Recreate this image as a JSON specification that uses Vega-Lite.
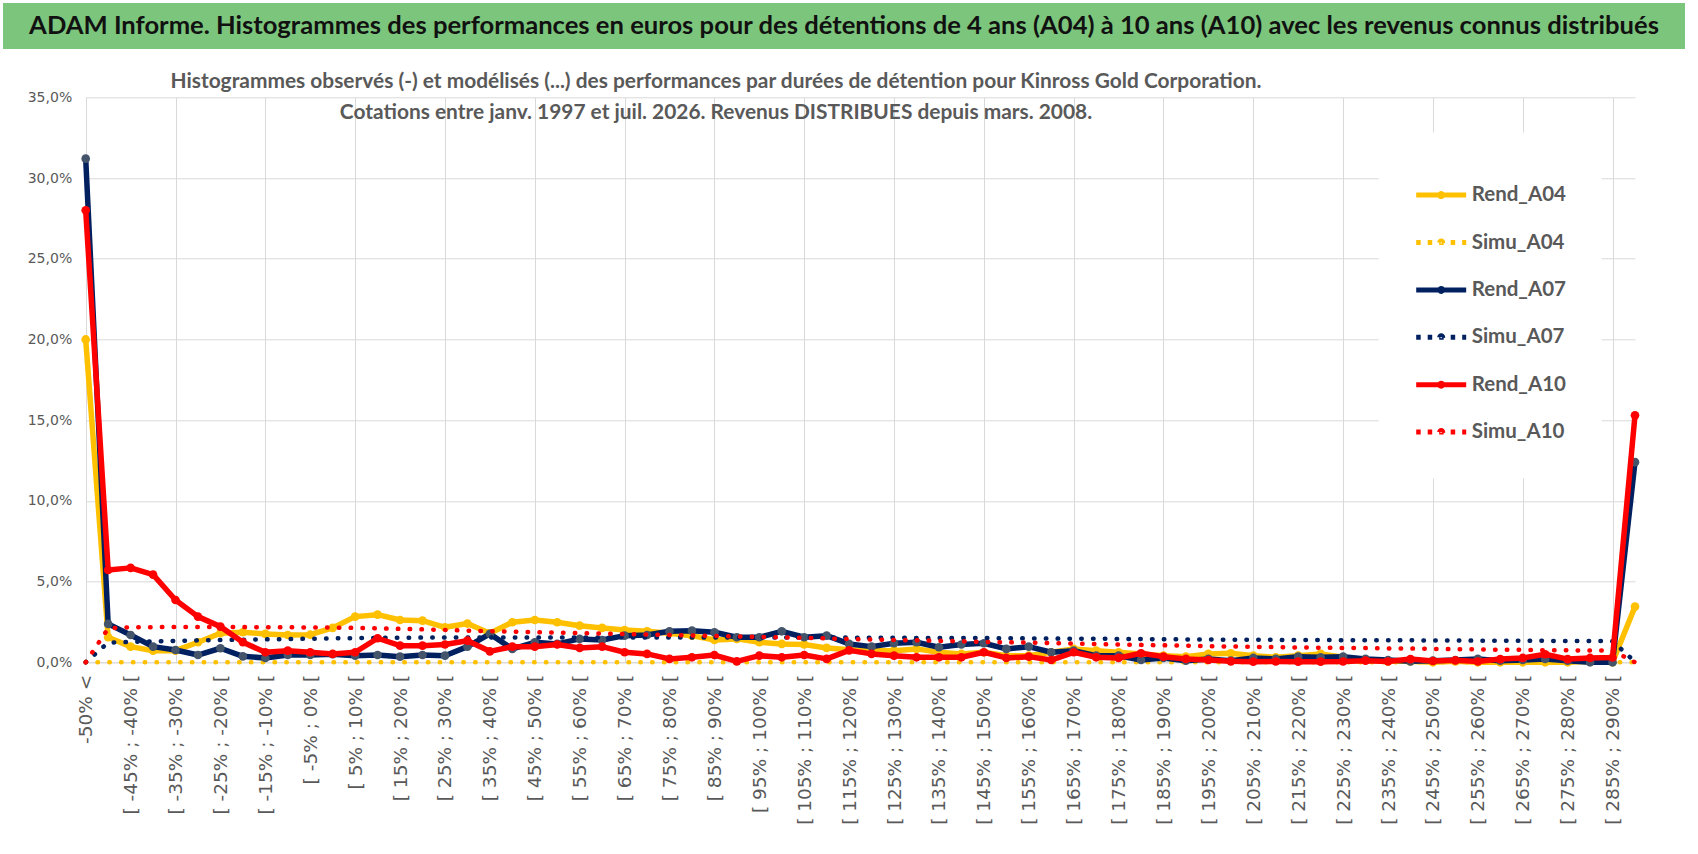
{
  "$schema": "https://vega.github.io/schema/vega-lite/v6.json",
  "background": "white",
  "padding": {"left": 3, "top": 3, "right": 0, "bottom": 0},
  "columns": 1,
  "spacing": 21.3,
  "config": {"view": {"stroke": null}},
  "concat": [
    {
      "width": 1682,
      "height": 46,
      "data": {"values": [{"t": "ADAM Informe. Histogrammes des performances en euros pour des détentions de 4 ans (A04) à 10 ans (A10) avec les revenus connus distribués"}]},
      "layer": [
        {"mark": {"type": "rect", "color": "#7CC57C"}, "encoding": {}},
        {"mark": {"type": "text", "font": "Lato", "fontSize": 25.6, "fontWeight": "bold", "color": "#111111", "align": "center", "baseline": "middle"},
         "encoding": {"text": {"field": "t", "type": "nominal"}}}
      ]
    },
    {
      "width": 1632,
      "height": 565,
      "title": {
        "text": ["Histogrammes observés (-) et modélisés (...)  des performances par durées de détention pour Kinross Gold Corporation.", "Cotations entre janv. 1997 et juil. 2026. Revenus DISTRIBUES depuis mars. 2008."],
        "font": "Lato",
        "fontSize": 20.9,
        "fontWeight": "bold",
        "color": "#595959",
        "lineHeight": 30.5,
        "anchor": "middle",
        "dx": -103,
        "offset": -32.3
      },
      "data": {"values": [
        {"c": "-50% <", "Rend_A04": 20.0, "Simu_A04": 0, "Rend_A07": 31.2, "Simu_A07": 0, "Rend_A10": 28.0, "Simu_A10": 0},
        {"c": "[ -50% ; -45% [", "Rend_A04": 1.55, "Simu_A04": 0, "Rend_A07": 2.38, "Simu_A07": 1.22, "Rend_A10": 5.72, "Simu_A10": 2.1},
        {"c": "[ -45% ; -40% [", "Rend_A04": 0.97, "Simu_A04": 0, "Rend_A07": 1.69, "Simu_A07": 1.26, "Rend_A10": 5.85, "Simu_A10": 2.17},
        {"c": "[ -40% ; -35% [", "Rend_A04": 0.72, "Simu_A04": 0, "Rend_A07": 0.97, "Simu_A07": 1.3, "Rend_A10": 5.43, "Simu_A10": 2.18},
        {"c": "[ -35% ; -30% [", "Rend_A04": 0.72, "Simu_A04": 0, "Rend_A07": 0.76, "Simu_A07": 1.33, "Rend_A10": 3.86, "Simu_A10": 2.18},
        {"c": "[ -30% ; -25% [", "Rend_A04": 1.24, "Simu_A04": 0, "Rend_A07": 0.45, "Simu_A07": 1.36, "Rend_A10": 2.83, "Simu_A10": 2.18},
        {"c": "[ -25% ; -20% [", "Rend_A04": 1.8, "Simu_A04": 0, "Rend_A07": 0.87, "Simu_A07": 1.38, "Rend_A10": 2.21, "Simu_A10": 2.18},
        {"c": "[ -20% ; -15% [", "Rend_A04": 1.86, "Simu_A04": 0, "Rend_A07": 0.37, "Simu_A07": 1.4, "Rend_A10": 1.24, "Simu_A10": 2.18},
        {"c": "[ -15% ; -10% [", "Rend_A04": 1.76, "Simu_A04": 0, "Rend_A07": 0.27, "Simu_A07": 1.42, "Rend_A10": 0.62, "Simu_A10": 2.17},
        {"c": "[ -10% ; -5% [", "Rend_A04": 1.69, "Simu_A04": 0, "Rend_A07": 0.45, "Simu_A07": 1.44, "Rend_A10": 0.72, "Simu_A10": 2.17},
        {"c": "[ -5% ; 0% [", "Rend_A04": 1.71, "Simu_A04": 0, "Rend_A07": 0.45, "Simu_A07": 1.46, "Rend_A10": 0.62, "Simu_A10": 2.16},
        {"c": "[ 0% ; 5% [", "Rend_A04": 2.13, "Simu_A04": 0, "Rend_A07": 0.5, "Simu_A07": 1.48, "Rend_A10": 0.52, "Simu_A10": 2.15},
        {"c": "[ 5% ; 10% [", "Rend_A04": 2.83, "Simu_A04": 0, "Rend_A07": 0.41, "Simu_A07": 1.5, "Rend_A10": 0.62, "Simu_A10": 2.13},
        {"c": "[ 10% ; 15% [", "Rend_A04": 2.95, "Simu_A04": 0, "Rend_A07": 0.45, "Simu_A07": 1.51, "Rend_A10": 1.49, "Simu_A10": 2.1},
        {"c": "[ 15% ; 20% [", "Rend_A04": 2.62, "Simu_A04": 0, "Rend_A07": 0.35, "Simu_A07": 1.52, "Rend_A10": 1.03, "Simu_A10": 2.07},
        {"c": "[ 20% ; 25% [", "Rend_A04": 2.58, "Simu_A04": 0, "Rend_A07": 0.45, "Simu_A07": 1.53, "Rend_A10": 1.03, "Simu_A10": 2.04},
        {"c": "[ 25% ; 30% [", "Rend_A04": 2.17, "Simu_A04": 0, "Rend_A07": 0.41, "Simu_A07": 1.53, "Rend_A10": 1.1, "Simu_A10": 2.0},
        {"c": "[ 30% ; 35% [", "Rend_A04": 2.4, "Simu_A04": 0, "Rend_A07": 0.97, "Simu_A07": 1.54, "Rend_A10": 1.34, "Simu_A10": 1.96},
        {"c": "[ 35% ; 40% [", "Rend_A04": 1.8, "Simu_A04": 0, "Rend_A07": 1.76, "Simu_A07": 1.54, "Rend_A10": 0.68, "Simu_A10": 1.93},
        {"c": "[ 40% ; 45% [", "Rend_A04": 2.48, "Simu_A04": 0, "Rend_A07": 0.83, "Simu_A07": 1.54, "Rend_A10": 0.97, "Simu_A10": 1.9},
        {"c": "[ 45% ; 50% [", "Rend_A04": 2.62, "Simu_A04": 0, "Rend_A07": 1.24, "Simu_A07": 1.54, "Rend_A10": 0.97, "Simu_A10": 1.87},
        {"c": "[ 50% ; 55% [", "Rend_A04": 2.48, "Simu_A04": 0, "Rend_A07": 1.14, "Simu_A07": 1.54, "Rend_A10": 1.1, "Simu_A10": 1.84},
        {"c": "[ 55% ; 60% [", "Rend_A04": 2.27, "Simu_A04": 0, "Rend_A07": 1.45, "Simu_A07": 1.54, "Rend_A10": 0.89, "Simu_A10": 1.81},
        {"c": "[ 60% ; 65% [", "Rend_A04": 2.13, "Simu_A04": 0, "Rend_A07": 1.38, "Simu_A07": 1.54, "Rend_A10": 0.97, "Simu_A10": 1.78},
        {"c": "[ 65% ; 70% [", "Rend_A04": 2.0, "Simu_A04": 0, "Rend_A07": 1.65, "Simu_A07": 1.54, "Rend_A10": 0.62, "Simu_A10": 1.75},
        {"c": "[ 70% ; 75% [", "Rend_A04": 1.92, "Simu_A04": 0, "Rend_A07": 1.69, "Simu_A07": 1.54, "Rend_A10": 0.52, "Simu_A10": 1.72},
        {"c": "[ 75% ; 80% [", "Rend_A04": 1.8, "Simu_A04": 0, "Rend_A07": 1.92, "Simu_A07": 1.54, "Rend_A10": 0.21, "Simu_A10": 1.69},
        {"c": "[ 80% ; 85% [", "Rend_A04": 1.65, "Simu_A04": 0, "Rend_A07": 1.96, "Simu_A07": 1.54, "Rend_A10": 0.31, "Simu_A10": 1.66},
        {"c": "[ 85% ; 90% [", "Rend_A04": 1.38, "Simu_A04": 0, "Rend_A07": 1.86, "Simu_A07": 1.54, "Rend_A10": 0.45, "Simu_A10": 1.63},
        {"c": "[ 90% ; 95% [", "Rend_A04": 1.45, "Simu_A04": 0, "Rend_A07": 1.55, "Simu_A07": 1.54, "Rend_A10": 0.06, "Simu_A10": 1.6},
        {"c": "[ 95% ; 100% [", "Rend_A04": 1.24, "Simu_A04": 0, "Rend_A07": 1.55, "Simu_A07": 1.54, "Rend_A10": 0.41, "Simu_A10": 1.57},
        {"c": "[ 100% ; 105% [", "Rend_A04": 1.14, "Simu_A04": 0, "Rend_A07": 1.92, "Simu_A07": 1.54, "Rend_A10": 0.31, "Simu_A10": 1.54},
        {"c": "[ 105% ; 110% [", "Rend_A04": 1.1, "Simu_A04": 0, "Rend_A07": 1.55, "Simu_A07": 1.54, "Rend_A10": 0.45, "Simu_A10": 1.51},
        {"c": "[ 110% ; 115% [", "Rend_A04": 0.89, "Simu_A04": 0, "Rend_A07": 1.65, "Simu_A07": 1.54, "Rend_A10": 0.21, "Simu_A10": 1.48},
        {"c": "[ 115% ; 120% [", "Rend_A04": 0.78, "Simu_A04": 0, "Rend_A07": 1.14, "Simu_A07": 1.53, "Rend_A10": 0.74, "Simu_A10": 1.44},
        {"c": "[ 120% ; 125% [", "Rend_A04": 0.72, "Simu_A04": 0, "Rend_A07": 0.97, "Simu_A07": 1.52, "Rend_A10": 0.52, "Simu_A10": 1.41},
        {"c": "[ 125% ; 130% [", "Rend_A04": 0.72, "Simu_A04": 0, "Rend_A07": 1.18, "Simu_A07": 1.52, "Rend_A10": 0.41, "Simu_A10": 1.38},
        {"c": "[ 130% ; 135% [", "Rend_A04": 0.83, "Simu_A04": 0, "Rend_A07": 1.24, "Simu_A07": 1.51, "Rend_A10": 0.31, "Simu_A10": 1.36},
        {"c": "[ 135% ; 140% [", "Rend_A04": 0.62, "Simu_A04": 0, "Rend_A07": 0.93, "Simu_A07": 1.51, "Rend_A10": 0.31, "Simu_A10": 1.33},
        {"c": "[ 140% ; 145% [", "Rend_A04": 0.52, "Simu_A04": 0, "Rend_A07": 1.1, "Simu_A07": 1.5, "Rend_A10": 0.31, "Simu_A10": 1.3},
        {"c": "[ 145% ; 150% [", "Rend_A04": 0.62, "Simu_A04": 0, "Rend_A07": 1.18, "Simu_A07": 1.5, "Rend_A10": 0.62, "Simu_A10": 1.27},
        {"c": "[ 150% ; 155% [", "Rend_A04": 0.41, "Simu_A04": 0, "Rend_A07": 0.83, "Simu_A07": 1.49, "Rend_A10": 0.27, "Simu_A10": 1.24},
        {"c": "[ 155% ; 160% [", "Rend_A04": 0.41, "Simu_A04": 0, "Rend_A07": 0.97, "Simu_A07": 1.48, "Rend_A10": 0.35, "Simu_A10": 1.22},
        {"c": "[ 160% ; 165% [", "Rend_A04": 0.62, "Simu_A04": 0, "Rend_A07": 0.62, "Simu_A07": 1.47, "Rend_A10": 0.14, "Simu_A10": 1.19},
        {"c": "[ 165% ; 170% [", "Rend_A04": 0.83, "Simu_A04": 0, "Rend_A07": 0.72, "Simu_A07": 1.46, "Rend_A10": 0.62, "Simu_A10": 1.16},
        {"c": "[ 170% ; 175% [", "Rend_A04": 0.72, "Simu_A04": 0, "Rend_A07": 0.41, "Simu_A07": 1.46, "Rend_A10": 0.31, "Simu_A10": 1.13},
        {"c": "[ 175% ; 180% [", "Rend_A04": 0.62, "Simu_A04": 0, "Rend_A07": 0.41, "Simu_A07": 1.45, "Rend_A10": 0.27, "Simu_A10": 1.1},
        {"c": "[ 180% ; 185% [", "Rend_A04": 0.52, "Simu_A04": 0, "Rend_A07": 0.14, "Simu_A07": 1.44, "Rend_A10": 0.56, "Simu_A10": 1.08},
        {"c": "[ 185% ; 190% [", "Rend_A04": 0.41, "Simu_A04": 0, "Rend_A07": 0.27, "Simu_A07": 1.43, "Rend_A10": 0.35, "Simu_A10": 1.05},
        {"c": "[ 190% ; 195% [", "Rend_A04": 0.35, "Simu_A04": 0, "Rend_A07": 0.1, "Simu_A07": 1.42, "Rend_A10": 0.21, "Simu_A10": 1.03},
        {"c": "[ 195% ; 200% [", "Rend_A04": 0.52, "Simu_A04": 0, "Rend_A07": 0.21, "Simu_A07": 1.41, "Rend_A10": 0.14, "Simu_A10": 1.0},
        {"c": "[ 200% ; 205% [", "Rend_A04": 0.56, "Simu_A04": 0, "Rend_A07": 0.1, "Simu_A07": 1.4, "Rend_A10": 0.06, "Simu_A10": 0.98},
        {"c": "[ 205% ; 210% [", "Rend_A04": 0.41, "Simu_A04": 0, "Rend_A07": 0.27, "Simu_A07": 1.39, "Rend_A10": 0.04, "Simu_A10": 0.96},
        {"c": "[ 210% ; 215% [", "Rend_A04": 0.31, "Simu_A04": 0, "Rend_A07": 0.21, "Simu_A07": 1.39, "Rend_A10": 0.05, "Simu_A10": 0.94},
        {"c": "[ 215% ; 220% [", "Rend_A04": 0.41, "Simu_A04": 0, "Rend_A07": 0.35, "Simu_A07": 1.38, "Rend_A10": 0.04, "Simu_A10": 0.92},
        {"c": "[ 220% ; 225% [", "Rend_A04": 0.52, "Simu_A04": 0, "Rend_A07": 0.31, "Simu_A07": 1.38, "Rend_A10": 0.04, "Simu_A10": 0.9},
        {"c": "[ 225% ; 230% [", "Rend_A04": 0.31, "Simu_A04": 0, "Rend_A07": 0.35, "Simu_A07": 1.37, "Rend_A10": 0.05, "Simu_A10": 0.89},
        {"c": "[ 230% ; 235% [", "Rend_A04": 0.15, "Simu_A04": 0, "Rend_A07": 0.21, "Simu_A07": 1.37, "Rend_A10": 0.1, "Simu_A10": 0.88},
        {"c": "[ 235% ; 240% [", "Rend_A04": 0.06, "Simu_A04": 0, "Rend_A07": 0.14, "Simu_A07": 1.36, "Rend_A10": 0.05, "Simu_A10": 0.86},
        {"c": "[ 240% ; 245% [", "Rend_A04": 0.06, "Simu_A04": 0, "Rend_A07": 0.06, "Simu_A07": 1.36, "Rend_A10": 0.2, "Simu_A10": 0.85},
        {"c": "[ 245% ; 250% [", "Rend_A04": 0.0, "Simu_A04": 0, "Rend_A07": 0.1, "Simu_A07": 1.35, "Rend_A10": 0.08, "Simu_A10": 0.83},
        {"c": "[ 250% ; 255% [", "Rend_A04": 0.06, "Simu_A04": 0, "Rend_A07": 0.14, "Simu_A07": 1.35, "Rend_A10": 0.12, "Simu_A10": 0.81},
        {"c": "[ 255% ; 260% [", "Rend_A04": 0.0, "Simu_A04": 0, "Rend_A07": 0.21, "Simu_A07": 1.34, "Rend_A10": 0.05, "Simu_A10": 0.8},
        {"c": "[ 260% ; 265% [", "Rend_A04": 0.0, "Simu_A04": 0, "Rend_A07": 0.1, "Simu_A07": 1.34, "Rend_A10": 0.2, "Simu_A10": 0.78},
        {"c": "[ 265% ; 270% [", "Rend_A04": 0.0, "Simu_A04": 0, "Rend_A07": 0.14, "Simu_A07": 1.33, "Rend_A10": 0.27, "Simu_A10": 0.77},
        {"c": "[ 270% ; 275% [", "Rend_A04": 0.0, "Simu_A04": 0, "Rend_A07": 0.21, "Simu_A07": 1.33, "Rend_A10": 0.5, "Simu_A10": 0.75},
        {"c": "[ 275% ; 280% [", "Rend_A04": 0.0, "Simu_A04": 0, "Rend_A07": 0.1, "Simu_A07": 1.32, "Rend_A10": 0.2, "Simu_A10": 0.74},
        {"c": "[ 280% ; 285% [", "Rend_A04": 0.06, "Simu_A04": 0, "Rend_A07": 0.0, "Simu_A07": 1.32, "Rend_A10": 0.27, "Simu_A10": 0.73},
        {"c": "[ 285% ; 290% [", "Rend_A04": 0.0, "Simu_A04": 0, "Rend_A07": 0.0, "Simu_A07": 1.31, "Rend_A10": 0.3, "Simu_A10": 0.72},
        {"c": "> 290%", "Rend_A04": 3.45, "Simu_A04": 0, "Rend_A07": 12.4, "Simu_A07": 0.03, "Rend_A10": 15.3, "Simu_A10": 0}
      ]},
      "transform": [{"fold": ["Rend_A04", "Simu_A04", "Rend_A07", "Simu_A07", "Rend_A10", "Simu_A10"], "as": ["series", "value"]}],
      "encoding": {
        "x": {"field": "c", "type": "ordinal", "axis": null,
          "scale": {"type": "point", "padding": 0, "range": [82.7, 1632], "domain": ["-50% <", "[ -50% ; -45% [", "[ -45% ; -40% [", "[ -40% ; -35% [", "[ -35% ; -30% [", "[ -30% ; -25% [", "[ -25% ; -20% [", "[ -20% ; -15% [", "[ -15% ; -10% [", "[ -10% ; -5% [", "[ -5% ; 0% [", "[ 0% ; 5% [", "[ 5% ; 10% [", "[ 10% ; 15% [", "[ 15% ; 20% [", "[ 20% ; 25% [", "[ 25% ; 30% [", "[ 30% ; 35% [", "[ 35% ; 40% [", "[ 40% ; 45% [", "[ 45% ; 50% [", "[ 50% ; 55% [", "[ 55% ; 60% [", "[ 60% ; 65% [", "[ 65% ; 70% [", "[ 70% ; 75% [", "[ 75% ; 80% [", "[ 80% ; 85% [", "[ 85% ; 90% [", "[ 90% ; 95% [", "[ 95% ; 100% [", "[ 100% ; 105% [", "[ 105% ; 110% [", "[ 110% ; 115% [", "[ 115% ; 120% [", "[ 120% ; 125% [", "[ 125% ; 130% [", "[ 130% ; 135% [", "[ 135% ; 140% [", "[ 140% ; 145% [", "[ 145% ; 150% [", "[ 150% ; 155% [", "[ 155% ; 160% [", "[ 160% ; 165% [", "[ 165% ; 170% [", "[ 170% ; 175% [", "[ 175% ; 180% [", "[ 180% ; 185% [", "[ 185% ; 190% [", "[ 190% ; 195% [", "[ 195% ; 200% [", "[ 200% ; 205% [", "[ 205% ; 210% [", "[ 210% ; 215% [", "[ 215% ; 220% [", "[ 220% ; 225% [", "[ 225% ; 230% [", "[ 230% ; 235% [", "[ 235% ; 240% [", "[ 240% ; 245% [", "[ 245% ; 250% [", "[ 250% ; 255% [", "[ 255% ; 260% [", "[ 260% ; 265% [", "[ 265% ; 270% [", "[ 270% ; 275% [", "[ 275% ; 280% [", "[ 280% ; 285% [", "[ 285% ; 290% [", "> 290%"]}},
        "y": {"field": "value", "type": "quantitative",
          "scale": {"domain": [0, 35], "nice": false, "zero": true},
          "axis": {"title": null, "offset": -82.7, "values": [0, 5, 10, 15, 20, 25, 30, 35], "labelExpr": "replace(format(datum.value, '.1f'), '.', ',') + '%'", "labelFont": "DejaVu Sans", "labelFontSize": 14, "labelColor": "#595959", "labelPadding": 14, "ticks": false, "domain": false, "grid": true, "gridColor": "#D9D9D9", "gridWidth": 1}}
      },
      "resolve": {"axis": {"x": "independent"}},
      "layer": [
        {
          "transform": [{"filter": "datum.value < -100"}],
          "mark": {"type": "line", "strokeCap": "round"},
          "encoding": {
            "x": {"field": "c", "type": "ordinal",
              "axis": {"title": null, "orient": "bottom", "values": ["-50% <", "[ -45% ; -40% [", "[ -35% ; -30% [", "[ -25% ; -20% [", "[ -15% ; -10% [", "[ -5% ; 0% [", "[ 5% ; 10% [", "[ 15% ; 20% [", "[ 25% ; 30% [", "[ 35% ; 40% [", "[ 45% ; 50% [", "[ 55% ; 60% [", "[ 65% ; 70% [", "[ 75% ; 80% [", "[ 85% ; 90% [", "[ 95% ; 100% [", "[ 105% ; 110% [", "[ 115% ; 120% [", "[ 125% ; 130% [", "[ 135% ; 140% [", "[ 145% ; 150% [", "[ 155% ; 160% [", "[ 165% ; 170% [", "[ 175% ; 180% [", "[ 185% ; 190% [", "[ 195% ; 200% [", "[ 205% ; 210% [", "[ 215% ; 220% [", "[ 225% ; 230% [", "[ 235% ; 240% [", "[ 245% ; 250% [", "[ 255% ; 260% [", "[ 265% ; 270% [", "[ 275% ; 280% [", "[ 285% ; 290% ["],
                "labelAngle": 270, "labelFont": "DejaVu Sans", "labelFontSize": 18.5, "labelColor": "#595959", "labelPadding": 12, "labelOverlap": false, "labelLimit": 400, "ticks": false, "grid": false, "domain": true, "domainColor": "#D9D9D9", "domainWidth": 1}},
            "color": {"field": "series", "type": "nominal",
              "scale": {"domain": ["Rend_A04", "Simu_A04", "Rend_A07", "Simu_A07", "Rend_A10", "Simu_A10"], "range": ["#FFC000", "#FFC000", "#002060", "#002060", "#FF0000", "#FF0000"]},
              "legend": {"title": null, "orient": "none", "legendX": 1375.7, "legendY": 129.6, "padding": 35, "fillColor": "white", "symbolType": "M-1,0H1M-0.06,0A0.06,0.06,0,1,1,0.06,0A0.06,0.06,0,1,1,-0.06,0", "symbolSize": 2500, "symbolOpacity": 1, "symbolStrokeWidth": 5, "labelFont": "Lato", "labelFontSize": 20.5, "labelFontWeight": "bold", "labelColor": "#595959", "labelOffset": 3, "rowPadding": 8.4}},
            "strokeDash": {"field": "series", "type": "nominal",
              "scale": {"domain": ["Rend_A04", "Simu_A04", "Rend_A07", "Simu_A07", "Rend_A10", "Simu_A10"], "range": [[1, 0], [4.5, 7], [1, 0], [4.5, 7], [1, 0], [4.5, 7]]},
              "legend": {"title": null, "orient": "none", "legendX": 1375.7, "legendY": 129.6, "padding": 35, "fillColor": "white", "symbolType": "M-1,0H1M-0.06,0A0.06,0.06,0,1,1,0.06,0A0.06,0.06,0,1,1,-0.06,0", "symbolSize": 2500, "symbolOpacity": 1, "symbolStrokeWidth": 5, "labelFont": "Lato", "labelFontSize": 20.5, "labelFontWeight": "bold", "labelColor": "#595959", "labelOffset": 3, "rowPadding": 8.4}}
          }
        },
        {
          "transform": [{"filter": "datum.value < -100"}],
          "mark": {"type": "line"},
          "encoding": {
            "x": {"field": "c", "type": "ordinal",
              "axis": {"title": null, "orient": "top", "values": ["-50% <", "[ -35% ; -30% [", "[ -15% ; -10% [", "[ 5% ; 10% [", "[ 25% ; 30% [", "[ 45% ; 50% [", "[ 65% ; 70% [", "[ 85% ; 90% [", "[ 105% ; 110% [", "[ 125% ; 130% [", "[ 145% ; 150% [", "[ 165% ; 170% [", "[ 185% ; 190% [", "[ 205% ; 210% [", "[ 225% ; 230% [", "[ 245% ; 250% [", "[ 265% ; 270% [", "[ 285% ; 290% ["],
                "labels": false, "ticks": false, "domain": false, "grid": true, "gridColor": "#D9D9D9", "gridWidth": 1}}
          }
        },
        {"transform": [{"filter": "datum.series === 'Rend_A04'"}], "mark": {"type": "line", "color": "#FFC000", "strokeWidth": 5.5, "strokeJoin": "round"}, "encoding": {}},
        {"transform": [{"filter": "datum.series === 'Rend_A04'"}], "mark": {"type": "point", "filled": true, "fill": "#FFC000", "strokeWidth": 0, "size": 75, "opacity": 1}},
        {"transform": [{"filter": "datum.series === 'Simu_A04'"}], "mark": {"type": "line", "color": "#FFC000", "strokeWidth": 4.5, "strokeDash": [0.5, 11.3], "strokeCap": "round"}, "encoding": {}},
        {"transform": [{"filter": "datum.series === 'Rend_A07'"}], "mark": {"type": "line", "color": "#002060", "strokeWidth": 5.5, "strokeJoin": "round"}, "encoding": {}},
        {"transform": [{"filter": "datum.series === 'Rend_A07'"}], "mark": {"type": "point", "filled": true, "fill": "#44546A", "strokeWidth": 0, "size": 75, "opacity": 1}},
        {"transform": [{"filter": "datum.series === 'Simu_A07'"}], "mark": {"type": "line", "color": "#002060", "strokeWidth": 4.5, "strokeDash": [0.5, 11.3], "strokeCap": "round"}, "encoding": {}},
        {"transform": [{"filter": "datum.series === 'Rend_A10'"}], "mark": {"type": "line", "color": "#FF0000", "strokeWidth": 5.5, "strokeJoin": "round"}, "encoding": {}},
        {"transform": [{"filter": "datum.series === 'Rend_A10'"}], "mark": {"type": "point", "filled": true, "fill": "#FF0000", "strokeWidth": 0, "size": 75, "opacity": 1}},
        {"transform": [{"filter": "datum.series === 'Simu_A10'"}], "mark": {"type": "line", "color": "#FF0000", "strokeWidth": 4.5, "strokeDash": [0.5, 11.3], "strokeCap": "round"}, "encoding": {}}
      ]
    }
  ]
}
